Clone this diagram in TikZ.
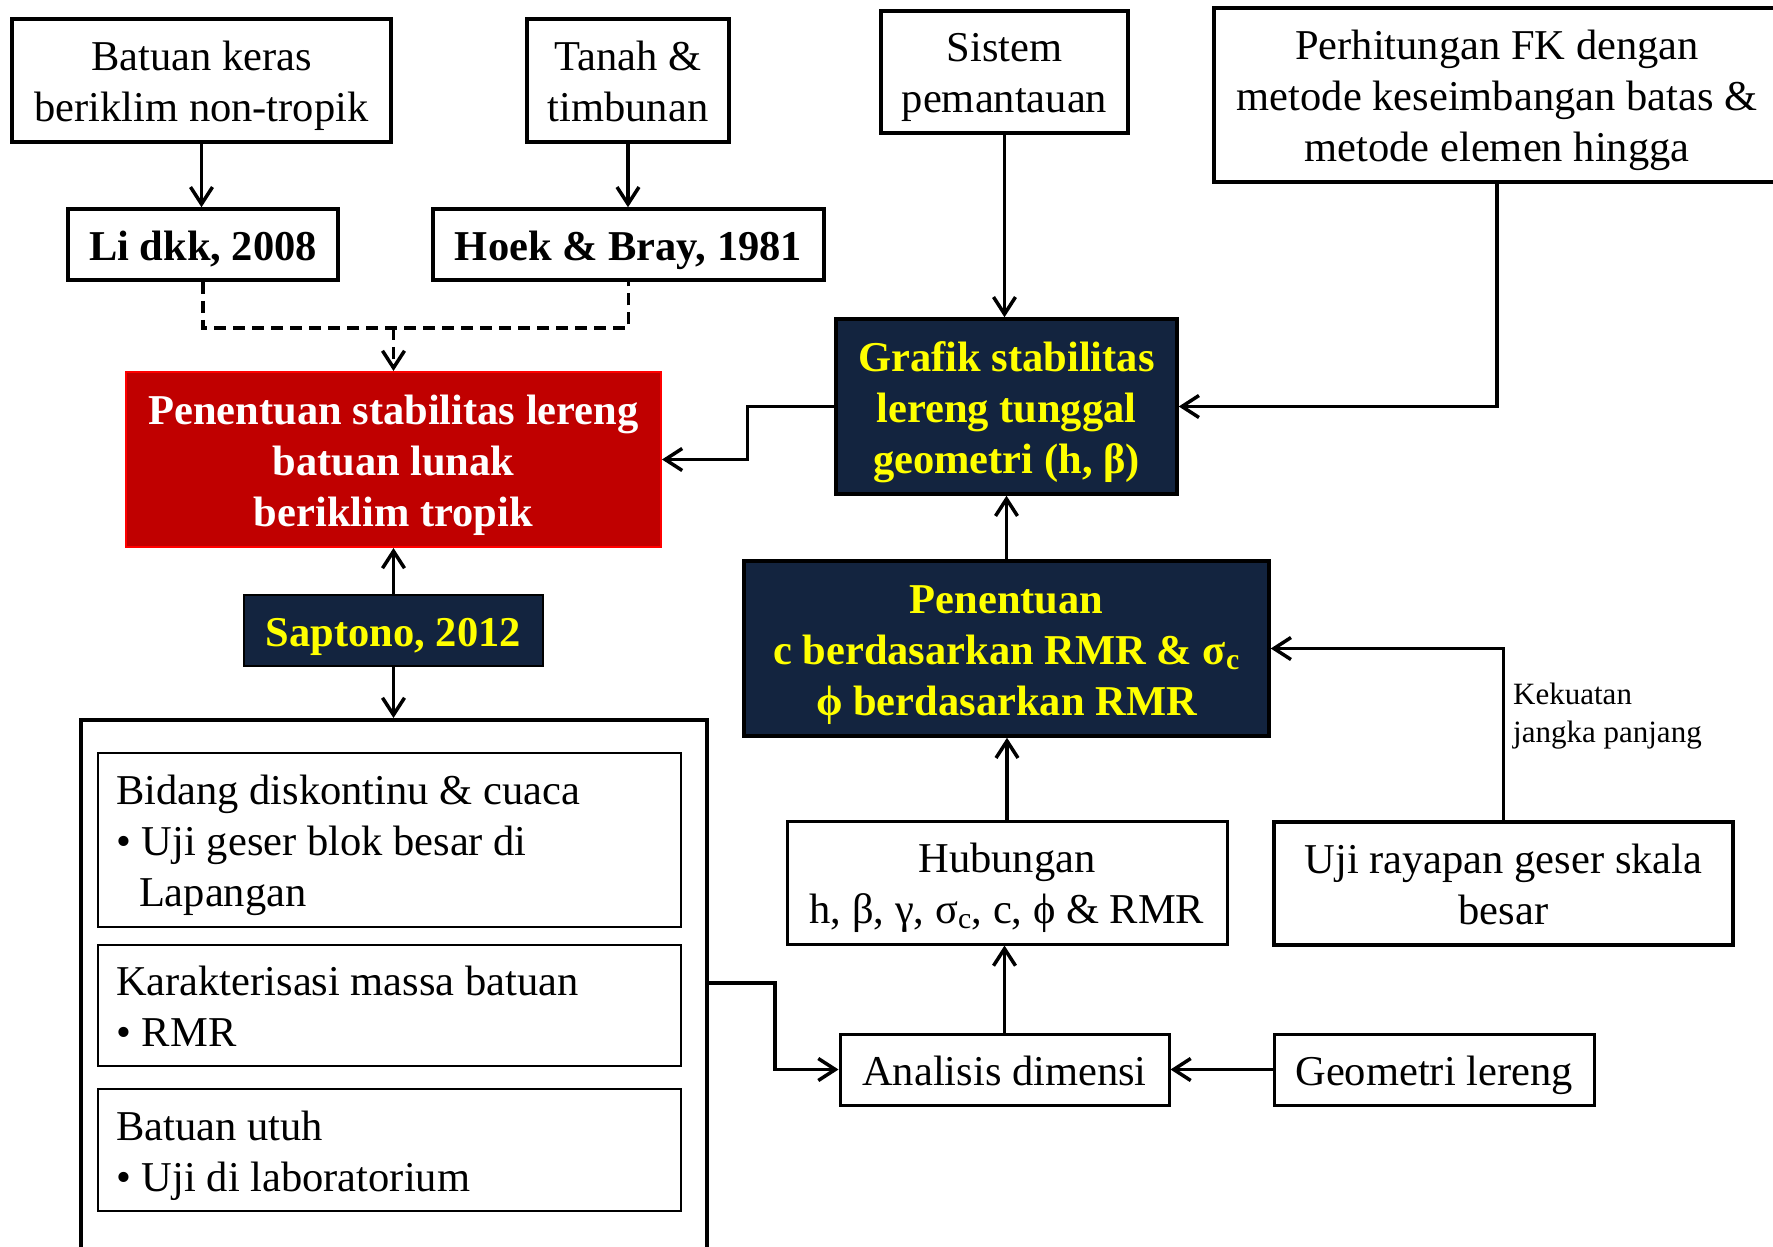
\documentclass[tikz,border=0pt]{standalone}
\usepackage{fontspec}
\setmainfont{Liberation Serif}
\usetikzlibrary{arrows.meta}
\definecolor{navy}{HTML}{13243F}
\definecolor{darkred}{HTML}{C00000}
\definecolor{brightred}{HTML}{FF0000}
\definecolor{hiyellow}{HTML}{FFFF00}
\newcommand{\itm}{\makebox[26pt][l]{\textbullet}}

\begin{document}
\begin{tikzpicture}[x=1pt,y=-1pt,
  every node/.style={inner sep=0pt},
  % every line of box text gets the same ascent/descent, so text blocks sit evenly in their boxes
  linestrut/.style={execute at begin node={\rule{0pt}{41pt}},
    execute at end node={\rule[-10pt]{0pt}{10pt}}},
  boxsize/.style 2 args={minimum width=#1, text width=#1, minimum height=#2},
  base/.style={font=\fontsize{42.5}{51}\selectfont, align=flush center, linestrut},
  plainbox/.style={base, draw=black, line width=3.5pt, fill=white},
  boldbox/.style={plainbox, font=\fontsize{42.5}{51}\selectfont\bfseries},
  navybox/.style={base, font=\fontsize{42.5}{51}\selectfont\bfseries,
    fill=navy, draw=black, line width=3.5pt, text=hiyellow},
  redbox/.style={base, font=\fontsize{42.5}{51}\selectfont\bfseries,
    fill=darkred, draw=brightred, line width=2pt, text=white},
  listbox/.style={font=\fontsize{42.5}{51}\selectfont, draw=black, line width=2pt,
    inner xsep=18pt, text width=547pt, align=flush left, linestrut},
  smalltext/.style={font=\fontsize{31}{38}\selectfont, align=left},
  conn/.style={line width=3.5pt, -{Straight Barb[length=17pt,width=22pt]}},
  dashconn/.style={line width=3.5pt, dash pattern=on 12pt off 7pt},
]
\fill[white] (0,0) rectangle (1773,1247);
\useasboundingbox (0,0) rectangle (1773,1247);

% top row of sources
\node[plainbox, boxsize={379pt}{123pt}] (bk) at (201.5,80.5) {Batuan keras\\beriklim non-tropik};
\node[plainbox, boxsize={202pt}{123pt}] (th) at (628,80.5) {Tanah \&\\timbunan};
\node[plainbox, boxsize={247pt}{122pt}] (sp) at (1004.5,72) {Sistem\\pemantauan};
\node[plainbox, boxsize={566pt}{174pt}] (fk) at (1497,95) {Perhitungan FK dengan\\metode keseimbangan batas \&\\metode elemen hingga};

% references
\node[boldbox, boxsize={270pt}{71pt}] (li) at (203,244.5) {Li dkk, 2008};
\node[boldbox, boxsize={391pt}{71pt}] (hb) at (628.5,244.5) {Hoek \& Bray, 1981};

% main result and charts
\node[redbox, boxsize={535pt}{175pt}] (red) at (393.5,459.5) {Penentuan stabilitas lereng\\batuan lunak\\beriklim tropik};
\node[navybox, boxsize={341pt}{175pt}] (gr) at (1006.5,406.5) {Grafik stabilitas\\lereng tunggal\\geometri (h, β)};
\node[navybox, line width=1.5pt, boxsize={299pt}{71pt}] (sa) at (393.5,630.5) {Saptono, 2012};

% field and laboratory data
\node[draw=black, line width=4pt, minimum width=626pt, minimum height=600pt] (big) at (394,1020) {};
\node[listbox, minimum height=174pt] (ia) at (389.5,840) {Bidang diskontinu \& cuaca\\\itm Uji geser blok besar di\\\hspace*{23pt}Lapangan};
\node[listbox, minimum height=121pt] (ib) at (389.5,1005.5) {Karakterisasi massa batuan\\\itm RMR};
\node[listbox, minimum height=122pt] (ic) at (389.5,1150) {Batuan utuh\\\itm Uji di laboratorium};

% strength parameters chain
\node[navybox, boxsize={525pt}{175pt}] (pc) at (1006.5,648.5) {Penentuan\\c berdasarkan RMR \& σ\textsubscript{c}\\ϕ berdasarkan RMR};
\node[plainbox, line width=3pt, boxsize={440pt}{123pt}] (hu) at (1007,882.5) {Hubungan\\h, β, γ, σ\textsubscript{c}, c, ϕ \& RMR};
\node[plainbox, boxsize={459pt}{123pt}] (ur) at (1503.5,883.5) {Uji rayapan geser skala\\besar};
\node[plainbox, line width=3pt, boxsize={329pt}{71pt}] (an) at (1004.5,1069.5) {Analisis dimensi};
\node[plainbox, line width=3pt, boxsize={320pt}{71pt}] (ge) at (1434,1069.5) {Geometri lereng};
\node[smalltext, anchor=west] (lbl) at (1513,716) {Kekuatan\\jangka panjang};

% connectors
\draw[conn] (bk.south) -- (bk.south |- li.north);
\draw[conn] (th.south) -- (th.south |- hb.north);
\draw[dashconn] (li.south) -- ++(0,46) coordinate (dl) -| (hb.south);
\draw[conn, dash pattern=on 12pt off 7pt] (red.north |- dl) -- (red.north);
\draw[conn] (sp.south) -- (sp.south |- gr.north);
\draw[conn] (fk.south) |- (gr.east);
\draw[conn] (gr.west) -- ++(-87,0) |- (red.east);
\draw[conn] (pc.north) -- (gr.south);
\draw[conn] (hu.north) -- (hu.north |- pc.south);
\draw[conn] (an.north) -- (an.north |- hu.south);
\draw[conn] (ge.west) -- (an.east);
\draw[conn] (ur.north) |- (pc.east);
\draw[conn] (sa.north) -- (red.south);
\draw[conn] (sa.south) -- (sa.south |- big.north);
\draw[conn] ([yshift=-265pt]big.north east) -- ++(66,0) |- (an.west);
\end{tikzpicture}
\end{document}
